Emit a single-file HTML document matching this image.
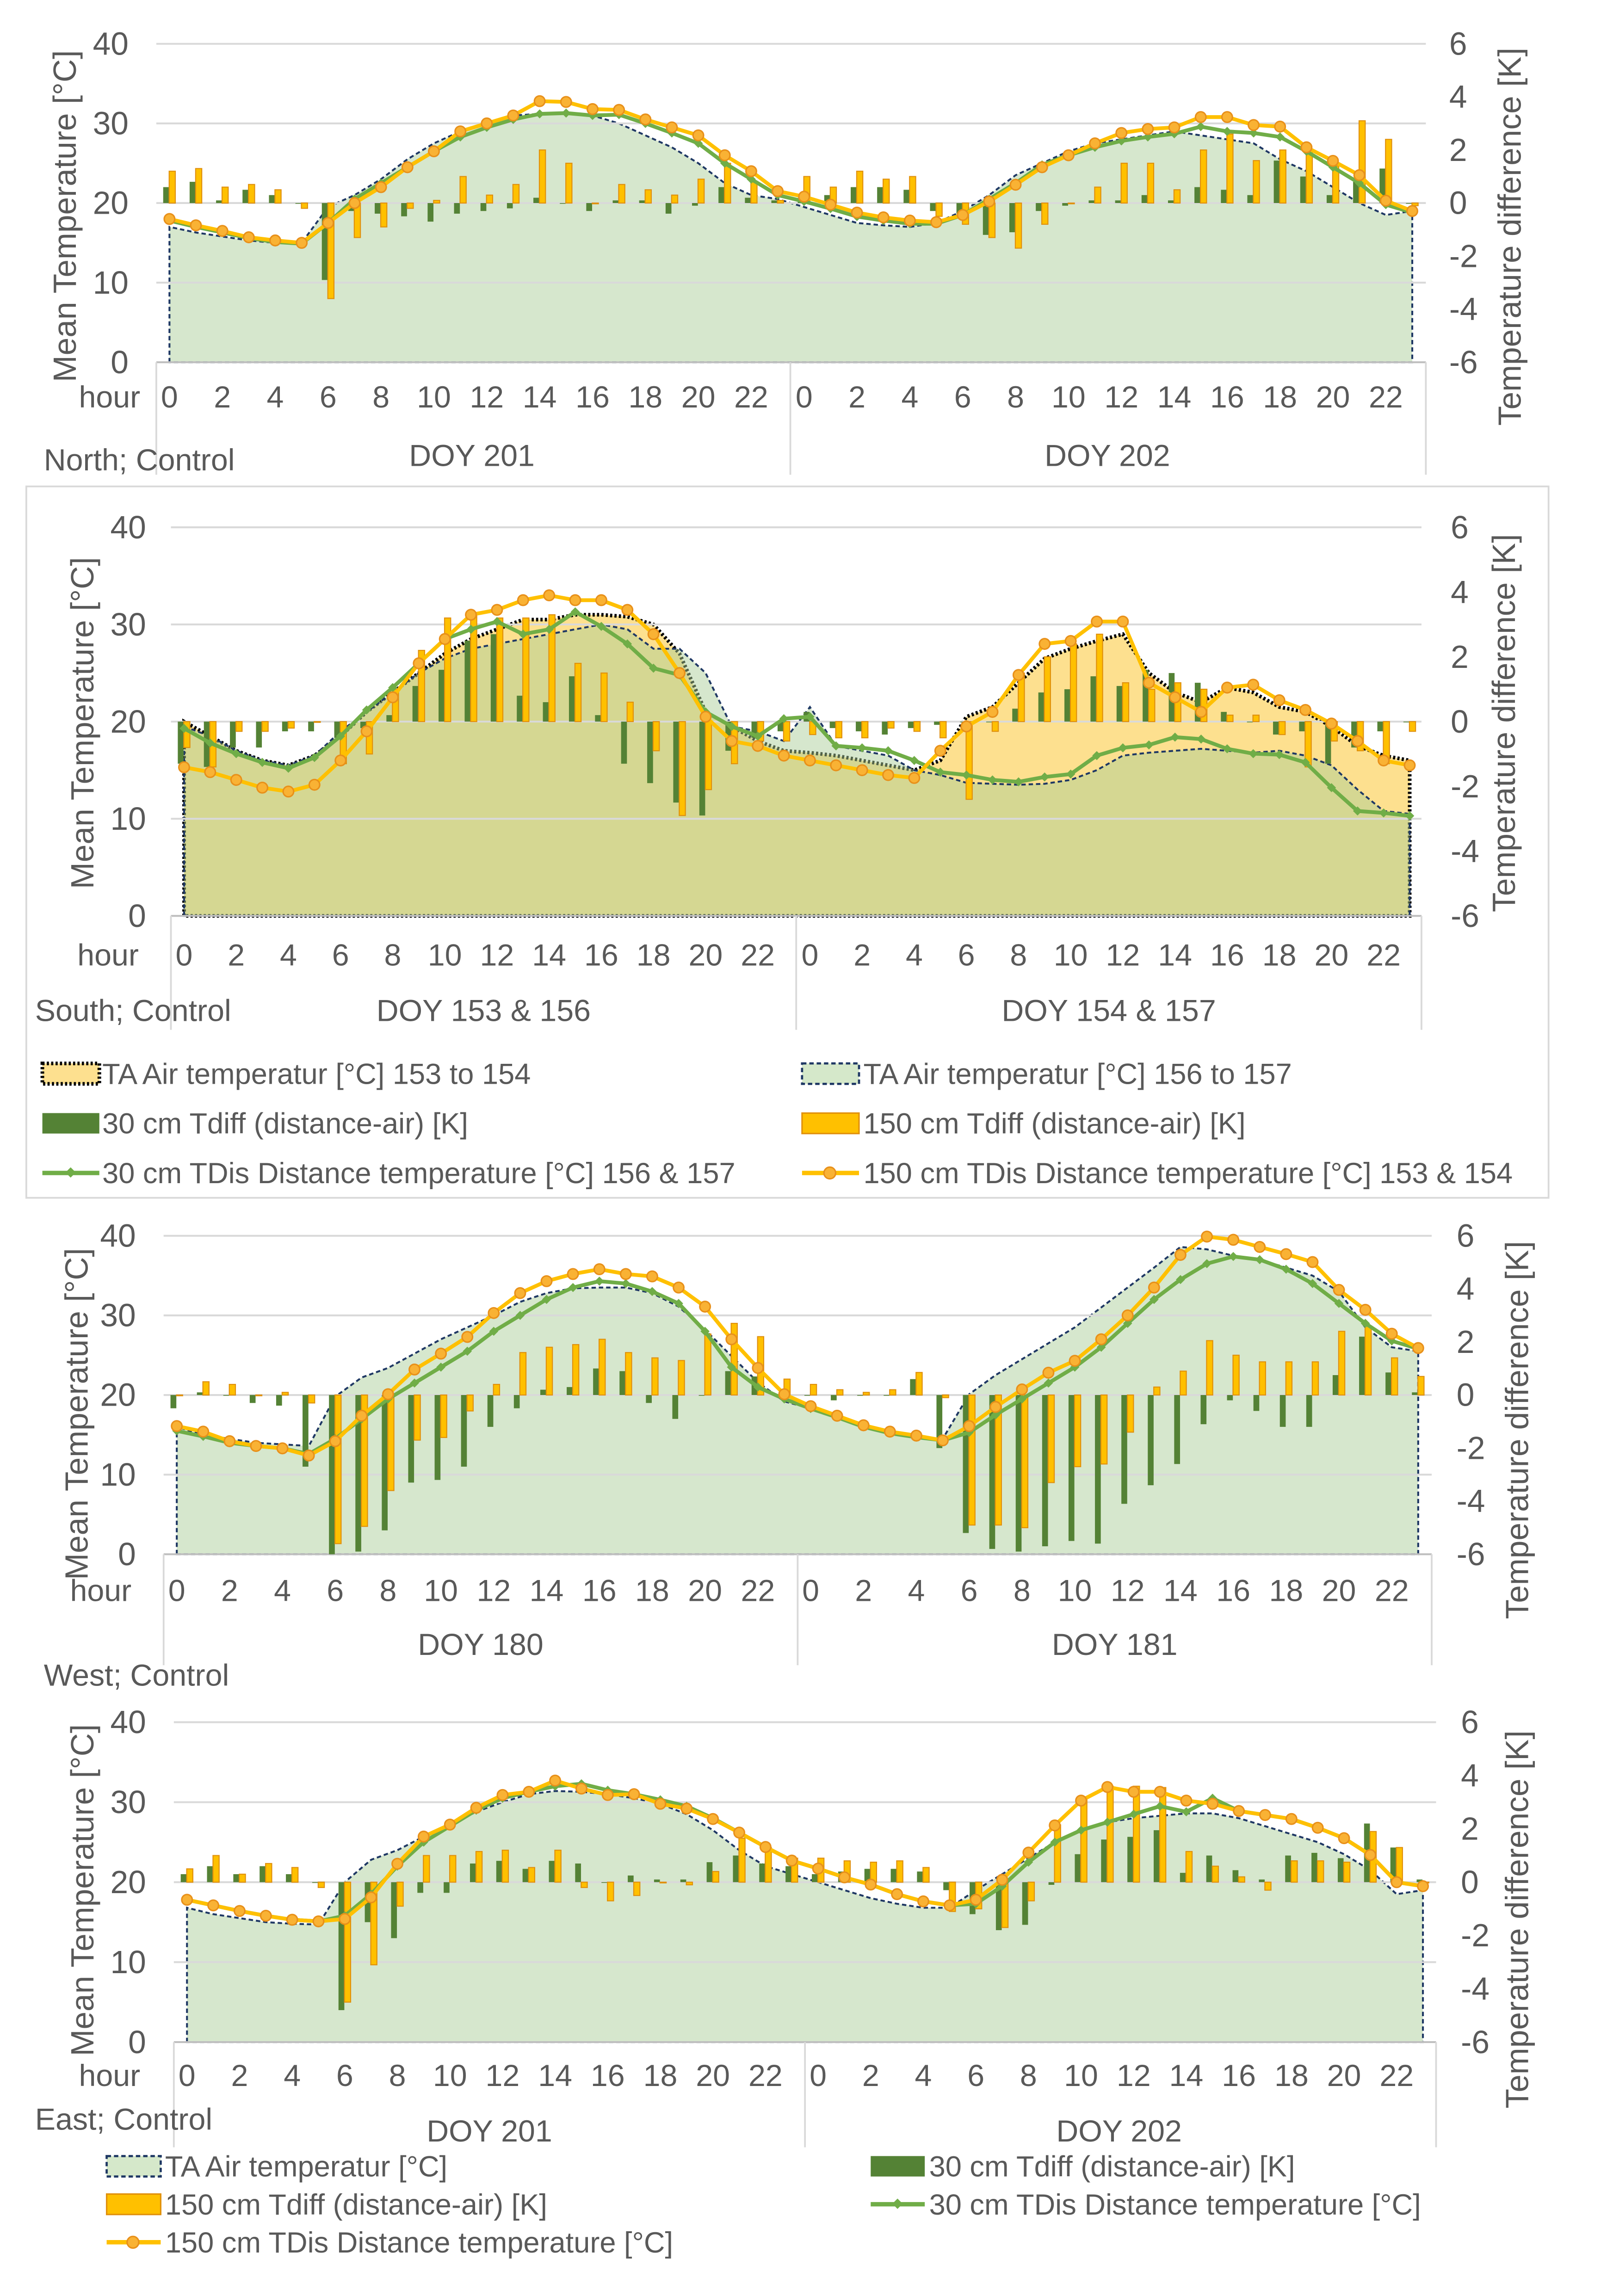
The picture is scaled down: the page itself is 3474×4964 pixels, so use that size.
<!DOCTYPE html>
<html><head><meta charset="utf-8"><style>
html,body{margin:0;padding:0;background:#fff;}
svg{display:block;font-family:"Liberation Sans",sans-serif;}
text{fill:#595959;}
</style></head><body>
<svg id="chart" width="3474" height="4964" viewBox="0 0 1100 1571.8" preserveAspectRatio="none" xmlns="http://www.w3.org/2000/svg">
<rect x="0" y="0" width="1100" height="1571.8" fill="#fff"/>
<rect x="18" y="333" width="1042" height="487" fill="none" stroke="#d9d9d9" stroke-width="1.2"/>
<g id="layer"></g>
<g font-size="21">
<text transform="translate(52,148) rotate(-90)" text-anchor="middle" font-size="22">Mean Temperature [°C]</text>
<text transform="translate(1041,162) rotate(-90)" text-anchor="middle" font-size="22">Temperature difference [K]</text>
<text x="30" y="322">North; Control</text>
<text x="323" y="319" text-anchor="middle">DOY 201</text>
<text x="758" y="319" text-anchor="middle">DOY 202</text>

<text transform="translate(64,495) rotate(-90)" text-anchor="middle" font-size="22">Mean Temperature [°C]</text>
<text transform="translate(1037,495) rotate(-90)" text-anchor="middle" font-size="22">Temperature difference [K]</text>
<text x="24" y="699">South; Control</text>
<text x="331" y="699" text-anchor="middle">DOY 153 &amp; 156</text>
<text x="759" y="699" text-anchor="middle">DOY 154 &amp; 157</text>

<text transform="translate(60,968) rotate(-90)" text-anchor="middle" font-size="22">Mean Temperature [°C]</text>
<text transform="translate(1046,979) rotate(-90)" text-anchor="middle" font-size="22">Temperature difference [K]</text>
<text x="30" y="1154">West; Control</text>
<text x="329" y="1133" text-anchor="middle">DOY 180</text>
<text x="763" y="1133" text-anchor="middle">DOY 181</text>

<text transform="translate(64,1294) rotate(-90)" text-anchor="middle" font-size="22">Mean Temperature [°C]</text>
<text transform="translate(1046,1314) rotate(-90)" text-anchor="middle" font-size="22">Temperature difference [K]</text>
<text x="24" y="1458">East; Control</text>
<text x="335" y="1466" text-anchor="middle">DOY 201</text>
<text x="766" y="1466" text-anchor="middle">DOY 202</text>
</g>
<g font-size="20">
<rect x="29" y="728" width="39" height="14" fill="#fde08f" stroke="#000" stroke-width="2.5" stroke-dasharray="1.5,1.5"/>
<text x="70" y="742">TA Air temperatur [°C] 153 to 154</text>
<rect x="549" y="728" width="39" height="14" fill="#d5e8ca" stroke="#1f3864" stroke-width="1.5" stroke-dasharray="3,2"/>
<text x="591" y="742">TA Air temperatur [°C] 156 to 157</text>
<rect x="29" y="762" width="39" height="14" fill="#548235"/>
<text x="70" y="776">30 cm Tdiff (distance-air) [K]</text>
<rect x="549" y="762" width="39" height="14" fill="#ffc000" stroke="#e0900c" stroke-width="1"/>
<text x="591" y="776">150 cm Tdiff (distance-air) [K]</text>
<line x1="29" y1="803" x2="68" y2="803" stroke="#70ad47" stroke-width="3"/>
<rect x="45.5" y="800" width="5" height="5" fill="#70ad47" transform="rotate(45 48 803)"/>
<text x="70" y="810">30 cm TDis Distance temperature [°C] 156 &amp; 157</text>
<line x1="549" y1="803" x2="588" y2="803" stroke="#ffc000" stroke-width="3"/>
<circle cx="568" cy="803" r="4" fill="#f9b234" stroke="#e8901a" stroke-width="1"/>
<text x="591" y="810">150 cm TDis Distance temperature [°C] 153 &amp; 154</text>
</g>
<g font-size="20">
<rect x="73" y="1476" width="37" height="14" fill="#d5e8ca" stroke="#1f3864" stroke-width="1.5" stroke-dasharray="3,2"/>
<text x="113" y="1490">TA Air temperatur [°C]</text>
<rect x="596" y="1476" width="37" height="14" fill="#548235"/>
<text x="636" y="1490">30 cm Tdiff (distance-air) [K]</text>
<rect x="73" y="1502" width="37" height="14" fill="#ffc000" stroke="#e0900c" stroke-width="1"/>
<text x="113" y="1516">150 cm Tdiff (distance-air) [K]</text>
<line x1="596" y1="1509" x2="633" y2="1509" stroke="#70ad47" stroke-width="3"/>
<rect x="611.5" y="1506" width="5" height="5" fill="#70ad47" transform="rotate(45 614 1509)"/>
<text x="636" y="1516">30 cm TDis Distance temperature [°C]</text>
<line x1="73" y1="1535" x2="110" y2="1535" stroke="#ffc000" stroke-width="3"/>
<circle cx="91" cy="1535" r="4" fill="#f9b234" stroke="#e8901a" stroke-width="1"/>
<text x="113" y="1542">150 cm TDis Distance temperature [°C]</text>
</g>
</svg>
<script>
const tempTicks=[0,10,20,30,40];
const diffTicks=[-6,-4,-2,0,2,4,6];
const hourLabels=["0","2","4","6","8","10","12","14","16","18","20","22"];

// North
const northAir=[17,16.3,15.8,15.3,15,15,19.5,21,23,25.5,27.5,29,30,31,31.2,31.2,31,30,28.5,27,25,22.5,21,20.5,19.5,18.5,17.5,17.2,17,17.5,19,21,23.5,25,26.5,27.5,28,28.5,29,28.5,28,27.5,25.5,24,22,20,18.5,19];
const northBar30=[0.6,0.8,0.1,0.5,0.3,0,-2.9,-0.3,-0.4,-0.5,-0.7,-0.4,-0.3,-0.2,0.2,0,-0.3,0.1,0.1,-0.4,-0.1,0.6,0.2,0.1,0.2,0.3,0.6,0.6,0.5,-0.3,-0.4,-1.2,-1.1,-0.3,-0.1,0.1,0.1,0.3,0.1,0.6,0.5,0.3,1.6,1,0.3,0.8,1.3,0];
const northBar150=[1.2,1.3,0.6,0.7,0.5,-0.2,-3.6,-1.3,-0.9,-0.2,0.1,1,0.3,0.7,2,1.5,0,0.7,0.5,0.3,0.9,1.5,0.8,0.1,1,0.6,1.2,0.9,1,-0.5,-0.8,-1.3,-1.7,-0.8,0,0.6,1.5,1.5,0.5,2,2.6,1.6,2,1.9,1.4,3.1,2.4,-0.1];
const northLine30=[17.8,17,16.3,15.6,15.1,14.9,17.5,20.5,22.5,24.5,26.5,28.3,29.5,30.5,31.2,31.3,31,31.1,30,28.8,27.5,25,23,21,20.2,19.3,18.3,17.8,17.4,17.4,18.5,20.5,22.5,24.8,26,27,27.8,28.3,28.7,29.6,29,28.8,28.3,26.5,24.5,22.5,19.8,18.8];
const northLine150=[18,17.2,16.5,15.7,15.3,15,17.5,20,22,24.5,26.5,29,30,31,32.8,32.7,31.8,31.7,30.5,29.5,28.5,26,24,21.5,20.8,19.8,18.8,18.2,17.8,17.6,18.5,20.2,22.3,24.5,26,27.5,28.8,29.3,29.5,30.8,30.8,29.8,29.6,27,25.3,23.5,20.3,19];

// South
const southAirA=[20,18.5,17,16,15.5,16.5,18.5,21,23,25,27,28.5,29.5,30.5,30.5,31,31,30.8,30,27,21,19.5,18,17,16.8,16.5,16,15.5,15,16,20.5,21.5,24,26.5,27.5,28.3,29,25,23,22,23.5,23,21.5,21,19.5,17.5,16.5,16];
const southAirB=[19.5,18.5,17,16,15.5,16.5,19,21,23,25,26.5,27.5,28,28.5,29,29.5,30,29.5,27.5,27.5,25,19.5,19,18,21.5,17.5,17,16.5,15,14.5,13.7,13.6,13.5,13.6,14,15,16.5,16.8,17,17.2,17,16.8,17,16.5,15.5,13,10.8,10.5];
const southBar30=[-1.3,-1.4,-0.8,-0.8,-0.3,-0.3,-0.5,-0.2,0.2,1.1,1.6,2.5,2.7,0.8,0.6,1.4,0.2,-1.3,-1.9,-2.5,-2.9,-0.9,-0.5,-0.3,0.3,-0.2,-0.3,-0.4,-0.2,-0.1,0,0,0.4,0.9,1,1.4,1.1,1.6,1.5,1.2,0.3,0,-0.4,-0.3,-1.3,-0.8,-0.3,0];
const southBar150=[-0.8,-1.4,-0.3,-0.3,-0.2,0,-1.3,-1,1,2.2,3.2,3.3,3.2,3.2,3.3,1.8,1.5,0.6,-0.9,-2.9,-2.1,-1.3,-0.6,-0.6,-0.4,-0.5,-0.5,-0.2,-0.3,-0.5,-2.4,-0.3,1.5,2,2.4,2.7,1.2,1,1.2,1,0.2,0.2,-0.4,-1.4,-0.6,-0.9,-1.3,-0.3];
const southLine30=[19.3,17.8,16.7,15.8,15.2,16.3,18.5,21.2,23.5,26,28.5,29.5,30.3,29,29.5,31.3,29.8,28,25.5,24.8,21,19.5,18.5,20.3,20.5,17.5,17.3,17,16,14.8,14.5,14,13.8,14.3,14.6,16.5,17.3,17.6,18.4,18.2,17.2,16.7,16.6,15.8,13.2,10.8,10.6,10.3];
const southLine150=[15.3,14.8,14,13.2,12.8,13.5,16,19,22.5,26,28.5,31,31.5,32.5,33,32.5,32.5,31.5,29,25,20.5,18,17.5,16.5,16,15.5,15,14.5,14.2,17,19.5,21,24.8,28,28.3,30.3,30.3,24,22.5,21,23.5,23.8,22.2,21.2,19.8,18,16,15.5];

// West
const westAir=[16,15,14.5,14,13.8,13.6,19.8,22.2,23.4,25.2,27,28.5,30,31.7,32.8,33.4,33.5,33.5,32.8,31.1,28.2,24.9,21.6,19.2,18.3,17.2,16,15.2,14.7,14.5,20.1,22.5,24.5,26.5,28.5,31,33.5,36,38.6,38.3,37.5,37,36,35,33,28.5,26,25.5];
const westBar30=[-0.5,0.1,0,-0.3,-0.4,-2.7,-6,-5.9,-5.1,-3.3,-3.2,-2.7,-1.2,-0.5,0.2,0.3,1,0.9,-0.3,-0.9,0,0.9,0.7,0,0,-0.2,0,0,0.6,-2,-5.2,-5.8,-5.9,-5.7,-5.5,-5.6,-4.1,-3.4,-2.6,-1.1,-0.2,-0.6,-1.2,-1.2,0.75,2.2,0.85,0.1];
const westBar150=[0,0.5,0.4,0,0.1,-0.3,-5.6,-4.95,-3.6,-1.7,-1.6,-0.6,0.4,1.6,1.8,1.9,2.1,1.6,1.4,1.3,2.3,2.7,2.2,0.6,0.4,0.2,0.1,0.2,0.85,-0.1,-4.9,-4.9,-5,-3.3,-2.7,-2.6,-1.4,0.3,0.9,2.05,1.5,1.25,1.25,1.25,2.4,2.6,1.4,0.7];
const westLine30=[15.5,14.8,14,13.6,13.3,12.6,14.5,17,19.5,21.5,23.5,25.5,28,30,32,33.5,34.3,34,33,31.5,28,23.5,21,19.5,18.3,17.2,16,15.2,14.7,14.3,15.3,17.5,19.5,21.5,23.5,26,29,32,34.5,36.5,37.4,37,35.8,34,31.5,29,26.8,25.8];
const westLine150=[16.1,15.4,14.2,13.6,13.3,12.4,14.2,17.4,20.1,23.2,25.2,27.3,30.3,32.8,34.3,35.2,35.8,35.2,34.9,33.5,31.1,27,23.4,20.1,18.6,17.4,16.2,15.4,14.9,14.3,16.1,18.5,20.7,22.8,24.3,27,30,33.5,37.6,39.9,39.5,38.6,37.7,36.7,33.2,30.7,27.7,25.9];

// East
const eastAir=[16.8,16,15.5,15,14.8,14.7,20,22.8,24,25.7,27.2,28.8,30,31,31.4,31.3,31,30.5,29.8,28.5,26.5,24,22,21,20,19,18,17.3,16.8,16.8,19,21,23,25,26.5,27.5,28,28.3,28.6,28.6,28,27,26,25,23.5,21.5,18.5,19];
const eastBar30=[0.3,0.6,0.3,0.6,0.3,0,-4.8,-1.5,-2.1,-0.4,-0.4,0.7,0.8,0.5,0.8,0.7,0,0.25,0.1,0.1,0.75,1,0.7,0.6,0.3,0.4,0.5,0.5,0.4,-0.3,-1.2,-1.8,-1.6,-0.1,1.05,1.6,1.7,1.95,0.35,1,0.45,0.1,1,1.1,0.9,2.2,1.3,0.1];
const eastBar150=[0.5,1,0.3,0.7,0.55,-0.2,-4.5,-3.1,-0.9,1,1,1.15,1.2,0.55,1.2,-0.2,-0.7,-0.5,0,-0.1,0.4,1.65,1.3,0.9,0.9,0.8,0.75,0.8,0.55,-1.1,-1,-1.7,-0.7,2.15,3.1,3.6,3.6,3.55,1.15,0.6,0.2,-0.3,0.8,0.8,0.75,1.9,1.3,0];
const eastLine30=[17.8,17.1,16.4,15.8,15.3,15.1,15.8,18.5,22,25,27,29,30.5,31.3,32,32.3,31.5,31,30.3,29.5,28,26.2,24.4,22.7,21.7,20.6,19.7,18.5,17.6,17.1,17.3,19.5,22.5,25,26.5,27.5,28.5,29.5,28.8,30.5,28.9,28.4,27.9,26.8,25.5,23.4,20,19.5];
const eastLine150=[17.8,17.1,16.4,15.8,15.3,15.1,15.4,18.1,22.3,25.7,27.2,29.3,30.9,31.3,32.7,31.7,30.9,31,29.8,29.2,27.9,26.2,24.4,22.7,21.7,20.6,19.7,18.5,17.6,17.1,17.8,20.3,23.7,27.1,30.2,31.9,31.3,31.3,30.2,29.8,28.9,28.4,27.9,26.8,25.5,23.4,20,19.5];

const NS="http://www.w3.org/2000/svg";
const layer=document.getElementById('layer');
function mk(tag,attrs,parent){const e=document.createElementNS(NS,tag);for(const k in attrs)e.setAttribute(k,attrs[k]);(parent||layer).appendChild(e);return e;}

function drawPanel(p,areas,bar30,bar150,line30,line150){
  const g=mk('g',{});
  
  
  const tY=v=>p.yBot-(v/40)*(p.yBot-p.yTop);
  const kY=v=>p.yBot-((v+6)/12)*(p.yBot-p.yTop);
  const cX=i=>p.x0+i*p.dx;
  areas.forEach((a,ai)=>{
    let d='M'+cX(0)+','+tY(0);
    a.data.forEach((v,i)=>{d+=' L'+cX(i)+','+tY(v);});
    d+=' L'+cX(a.data.length-1)+','+tY(0)+' Z';
    const e=mk('path',{d:d,fill:a.fill,stroke:a.stroke,'stroke-width':a.sw,'stroke-dasharray':a.dash},g);
    
    
  });
  tempTicks.forEach(v=>{
    const e=mk('line',{x1:p.gx1,x2:p.gx2,y1:tY(v),y2:tY(v),stroke:v===0?'#bfbfbf':'#d9d9d9','stroke-width':1.3},g);
    
    
    const t=mk('text',{x:p.lx,y:tY(v)+7.5,'text-anchor':'end','font-size':22},g);
    t.textContent=v;
    
    
  });
  diffTicks.forEach(v=>{
    const t=mk('text',{x:p.rx,y:kY(v)+7.5,'font-size':22},g);
    t.textContent=v;
    
    
  });
  [p.gx1,p.divX,p.gx2].forEach(x=>{
    const e=mk('line',{x1:x,x2:x,y1:p.yBot,y2:p.catBot,stroke:'#d9d9d9','stroke-width':1.2},g);
    
    
  });
  const hl=mk('text',{x:p.hourX,y:p.hourY,'text-anchor':'end','font-size':21},g);
  hl.textContent='hour';
  
  
  for(let day=0;day<2;day++){
    hourLabels.forEach((s,j)=>{
      const t=mk('text',{x:cX(day*24+j*2),y:p.hourY,'text-anchor':'middle','font-size':21},g);
      t.textContent=s;
      
      
    });
  }
  const z=kY(0);
  bar30.forEach((v,i)=>{
    const y=kY(v);
    const e=mk('rect',{x:cX(i)-4.3,y:Math.min(y,z),width:4,height:Math.max(Math.abs(y-z),0.5),fill:'#548235'},g);
    
    
  });
  bar150.forEach((v,i)=>{
    const y=kY(v);
    const e=mk('rect',{x:cX(i)-0.2,y:Math.min(y,z),width:4.2,height:Math.max(Math.abs(y-z),0.5),fill:'#ffc000',stroke:'#e0900c','stroke-width':0.7},g);
    
    
  });
  const pts=arr=>arr.map((v,i)=>cX(i)+','+tY(v)).join(' ');
  const l30=mk('polyline',{points:pts(line30),fill:'none',stroke:'#70ad47','stroke-width':2.6,'stroke-linejoin':'round'},g);
  
  
  line30.forEach((v,i)=>{
    const m=mk('rect',{x:cX(i)-2.2,y:tY(v)-2.2,width:4.4,height:4.4,fill:'#70ad47',transform:'rotate(45 '+cX(i)+' '+tY(v)+')'},g);
    
    
  });
  const l150=mk('polyline',{points:pts(line150),fill:'none',stroke:'#ffc000','stroke-width':2.6,'stroke-linejoin':'round'},g);
  
  
  line150.forEach((v,i)=>{
    const m=mk('circle',{cx:cX(i),cy:tY(v),r:3.6,fill:'#f9b234',stroke:'#e8901a','stroke-width':1},g);
    
    
  });
}

const greenFill='rgba(170,205,150,0.48)';
drawPanel({name:'north',x0:116,dx:18.1,yTop:30,yBot:248,gx1:107,gx2:976,divX:541,catBot:325,lx:88,rx:992,hourX:96,hourY:279},
  [{data:northAir,fill:greenFill,stroke:'#1f3864',sw:1.3,dash:'3,2'}],northBar30,northBar150,northLine30,northLine150);
drawPanel({name:'south',x0:126,dx:17.85,yTop:361,yBot:627,gx1:117,gx2:973,divX:545,catBot:705,lx:100,rx:993,hourX:95,hourY:661},
  [{data:southAirA,fill:'#fde08f',stroke:'#000',sw:2.5,dash:'1.5,1.5'},{data:southAirB,fill:greenFill,stroke:'#1f3864',sw:1.3,dash:'3,2'}],southBar30,southBar150,southLine30,southLine150);
drawPanel({name:'west',x0:121,dx:18.08,yTop:846,yBot:1064,gx1:112,gx2:980,divX:546,catBot:1140,lx:93,rx:997,hourX:90,hourY:1096},
  [{data:westAir,fill:greenFill,stroke:'#1f3864',sw:1.3,dash:'3,2'}],westBar30,westBar150,westLine30,westLine150);
drawPanel({name:'east',x0:128,dx:18,yTop:1179,yBot:1398,gx1:119,gx2:983,divX:551,catBot:1470,lx:100,rx:1000,hourX:96,hourY:1428},
  [{data:eastAir,fill:greenFill,stroke:'#1f3864',sw:1.3,dash:'3,2'}],eastBar30,eastBar150,eastLine30,eastLine150);
</script>
</body></html>
